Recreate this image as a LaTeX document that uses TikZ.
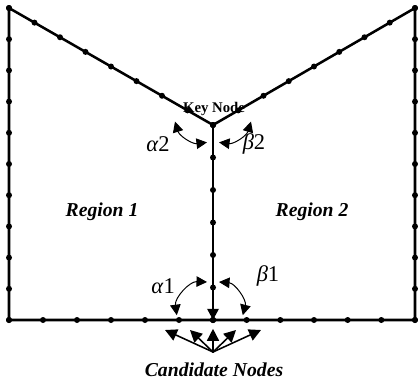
\documentclass[tikz,border=0pt]{standalone}
\usepackage{fontspec}
\setmainfont{Liberation Serif}
\usetikzlibrary{arrows.meta,calc}

\tikzset{
  edge/.style={line width=1.8pt},
  angarrow/.style={line width=0.7pt,
    {Triangle[length=7.5pt,width=7.5pt]}-{Triangle[length=7.5pt,width=7.5pt]}},
  candarrow/.style={line width=1.1pt,-{Triangle[length=8.5pt,width=8.5pt]}},
  regionlbl/.style={font=\fontsize{14}{16}\selectfont\bfseries\itshape},
  anglelbl/.style={font=\fontsize{16}{18}\selectfont},
}

\begin{document}
\begin{tikzpicture}[x=1cm,y=1cm,line cap=round,line join=round]
        \useasboundingbox (0,0) rectangle (10.45,9.60);
        \coordinate (TL) at (0.225,9.40);
        \coordinate (TR) at (10.375,9.40);
        \coordinate (BL) at (0.225,1.60);
        \coordinate (BR) at (10.375,1.60);
        \coordinate (K) at (5.325,6.475);
        \coordinate (B) at (5.325,1.60);

        % Outline and split line
        \draw[edge] (BL) -- (TL) -- (K) -- (TR) -- (BR) -- cycle;
        \draw[edge,-{Triangle[length=8pt,width=8pt]}] (K) -- (B);

        % Boundary nodes
        \foreach \a/\b/\n in {TL/K/8,K/TR/8,BL/TL/10,BR/TR/10,BL/B/6,B/BR/6,K/B/6}
            \foreach \i in {0,...,\n}
                \fill ($(\a)!\i/\n!(\b)$) circle (0.075);

        \node[font=\fontsize{10.5}{12}\selectfont\bfseries] (keylbl) at (5.35,6.88) {Key Node};
        \node[regionlbl] (reg1) at (2.55,4.30) {Region 1};
        \node[regionlbl] (reg2) at (7.80,4.30) {Region 2};

        % Angles at the key node
        \coordinate (a2s) at (4.375,6.56);
        \coordinate (a2e) at (5.175,6.04);
        \coordinate (b2s) at (6.275,6.56);
        \coordinate (b2e) at (5.475,6.04);
        \draw[angarrow] (a2s) to[bend right=40] (a2e);
        \draw[angarrow] (b2s) to[bend left=40] (b2e);
        \node[anglelbl] (alpha2) at (3.95,6.00) {\textit{α}2};
        \node[anglelbl] (beta2) at (6.35,6.00) {\textit{β}2};

        % Angles at the bottom
        \coordinate (a1s) at (5.175,2.55);
        \coordinate (a1e) at (4.42,1.72);
        \coordinate (b1s) at (5.475,2.55);
        \coordinate (b1e) at (6.07,1.72);
        \draw[angarrow] (a1s) to[bend right=50] (a1e);
        \draw[angarrow] (b1s) to[bend left=50] (b1e);
        \node[anglelbl] (alpha1) at (4.08,2.45) {\textit{α}1};
        \node[anglelbl] (beta1) at (6.70,2.70) {\textit{β}1};

        % Candidate nodes
        \coordinate (CO) at (5.325,0.80);
        \coordinate (c1) at (4.125,1.35);
        \coordinate (c2) at (4.750,1.35);
        \coordinate (c3) at (5.325,1.38);
        \coordinate (c4) at (5.900,1.35);
        \coordinate (c5) at (6.525,1.35);
        \foreach \i in {1,...,5}
            \draw[candarrow] (CO) -- (c\i);
        \node[regionlbl] (candlbl) at (5.35,0.35) {Candidate Nodes};

    \end{tikzpicture}
\end{document}
